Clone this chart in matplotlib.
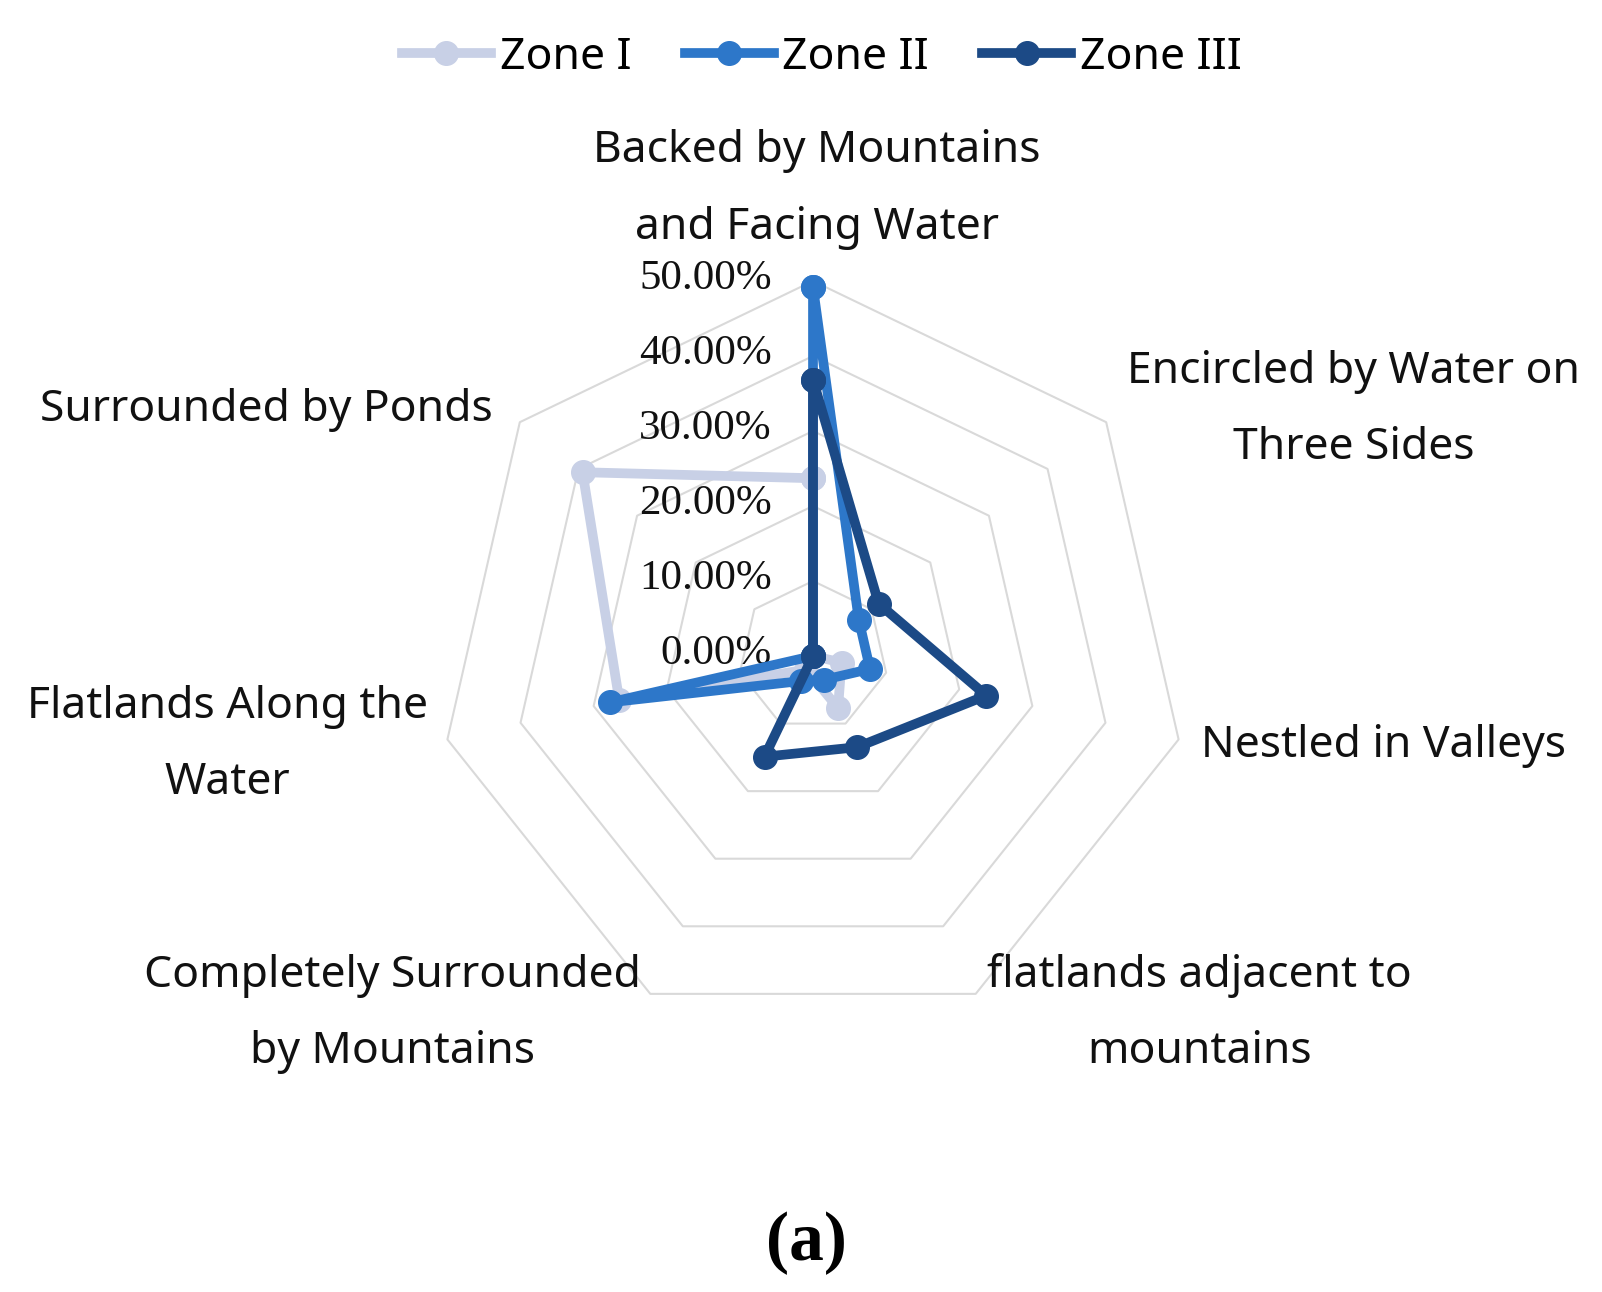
import numpy as np
import matplotlib
matplotlib.use("Agg")
import matplotlib.pyplot as plt

# data (percent)
categories = ["Backed by Mountains\nand Facing Water",
              "Encircled by Water on\nThree Sides",
              "Nestled in Valleys",
              "flatlands adjacent to\nmountains",
              "Completely Surrounded\nby Mountains",
              "Flatlands Along the\nWater",
              "Surrounded by Ponds"]
zones = ["Zone I", "Zone II", "Zone III"]
zone1 = [23.7, 0.0, 3.9, 7.7, 2.0, 26.5, 39.3]
zone2 = [49.2, 7.8, 7.8, 3.5, 3.7, 27.8, 0.0]
zone3 = [36.8, 11.2, 23.7, 13.5, 14.9, 0.0, 0.0]
levels = [0, 10, 20, 30, 40, 50]
tick_labels = ["0.00%", "10.00%", "20.00%", "30.00%", "40.00%", "50.00%"]

colors = ["#c8d0e6", "#2d77c9", "#1c4a86"]

W, H = 1602, 1292
cx, cy = 813, 656      # centre in pixels
px = 7.5               # pixels per percent

fig = plt.figure(figsize=(W / 100, H / 100), dpi=100)
ax = fig.add_axes([0, 0, 1, 1])
ax.set_xlim(-cx / px, (W - cx) / px)
ax.set_ylim(-(H - cy) / px, cy / px)
ax.axis("off")

n = len(categories)
ang = np.arange(n) * 2 * np.pi / n

# heptagon grid
for lv in levels[1:]:
    gx = lv * np.sin(np.append(ang, ang[0]))
    gy = lv * np.cos(np.append(ang, ang[0]))
    ax.plot(gx, gy, color="#d9d9d9", lw=1.5, zorder=1)

# series
for name, vals, c in zip(zones, [zone1, zone2, zone3], colors):
    v = np.append(vals, vals[0])
    a = np.append(ang, ang[0])
    ax.plot(v * np.sin(a), v * np.cos(a), color=c, lw=7, marker="o",
            markersize=17, label=name, zorder=3, solid_joinstyle="round")

# radial tick labels
for lv, t in zip(levels, tick_labels):
    ax.text(-5.5, lv + 0.3, t, ha="right", va="center", fontsize=31,
            family="Liberation Serif", color="#111111", zorder=2)

# category labels
label_pos = [(0.5, 62.2), (72.1, 32.8), (76.1, -12.0), (51.5, -47.7),
             (-56.1, -47.7), (-78.1, -11.9), (-72.9, 32.8)]
for lab, (lx, ly) in zip(categories, label_pos):
    ax.text(lx, ly, lab, ha="center", va="center", fontsize=32,
            family="Noto Sans", linespacing=1.98, color="#111111")

leg = ax.legend(loc="center", bbox_to_anchor=(822 / W, 1 - 58 / H), ncol=3,
                frameon=False, prop={"family": "Noto Sans", "size": 32},
                handlelength=2.0, handletextpad=0.2, columnspacing=1.2)

ax.text((806 - cx) / px, (cy - 1243) / px, "(a)", ha="center", va="center",
        fontsize=50, fontweight="bold", family="Liberation Serif")

fig.savefig("out.png", dpi=100)
